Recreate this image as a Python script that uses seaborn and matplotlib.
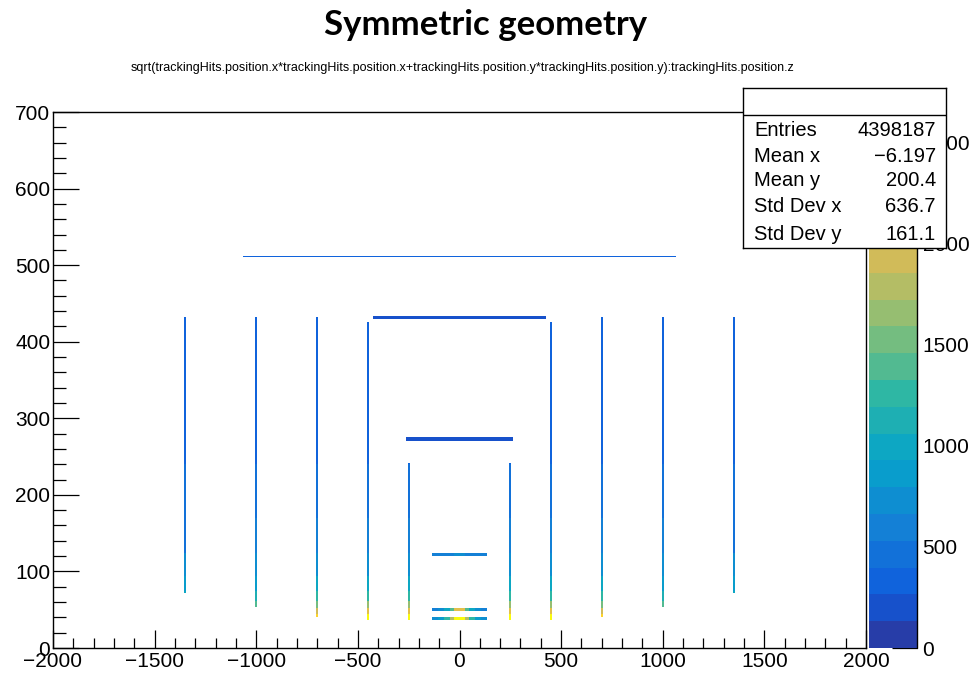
import numpy as np
import pandas as pd
import matplotlib
matplotlib.use("Agg")
import matplotlib.pyplot as plt
from matplotlib.colors import ListedColormap
from matplotlib.ticker import MultipleLocator
import seaborn as sns

# ---------------- hit map: r = sqrt(x^2 + y^2) versus z ----------------
# Endcap disks: fixed z, hits spread over a radial range
DISK_Z = [-1350, -1000, -700, -450, -250, 250, 450, 700, 1000, 1350]
DISK_R_MIN = [72, 54, 40, 37, 37, 37, 37, 40, 54, 72]
DISK_R_MAX = [431, 431, 431, 426, 242, 242, 426, 431, 431, 431]
# hits per bin inside radial bands (band edges in mm), keyed by |z|
DISK_BAND_EDGES = [0, 45, 52, 62, 75, 95, 125, 170, 240, 330, 700]
DISK_HITS = {
    1350: [0, 0, 0, 1050, 880, 680, 520, 400, 310, 280],
    1000: [0, 0, 1400, 1150, 900, 700, 530, 410, 315, 285],
    700: [2300, 1900, 1550, 1250, 950, 740, 550, 420, 320, 290],
    450: [2550, 2050, 1650, 1300, 1000, 770, 570, 430, 330, 300],
    250: [2550, 2050, 1650, 1300, 1000, 770, 570, 430, 330, 300],
}

# Barrel layers: fixed radius, hits spread along z
BARREL_R = [36, 49.5, 121, 272, 431, 510]
BARREL_HALF_LENGTH = [135, 135, 135, 265, 421, 1068]
BARREL_ROWS = [2, 2, 2, 3, 2, 1]
# hits per bin inside |z| bands (band edges in mm)
BARREL_BAND_EDGES = [0, 25, 50, 80, 110, 150, 1100]
BARREL_HITS = [
    [2600, 1800, 1200, 900, 700, 700],
    [2000, 1400, 950, 750, 600, 600],
    [700, 660, 630, 600, 580, 580],
    [170, 170, 170, 170, 170, 170],
    [170, 170, 170, 170, 170, 170],
    [300, 300, 300, 300, 300, 300],
]

# Stats box contents
STATS_LABELS = ["Entries", "Mean x", "Mean y", "Std Dev x", "Std Dev y"]
STATS_VALUES = ["4398187", "\u22126.197", "200.4", "636.7", "161.1"]

TITLE = "Symmetric geometry"
SUBTITLE = ("sqrt(trackingHits.position.x*trackingHits.position.x+"
            "trackingHits.position.y*trackingHits.position.y):"
            "trackingHits.position.z")

X_TICKS = [-2000, -1500, -1000, -500, 0, 500, 1000, 1500, 2000]
Y_TICKS = [0, 100, 200, 300, 400, 500, 600, 700]
Z_TICKS = [0, 500, 1000, 1500, 2000, 2500]
Z_MAX = 2650
N_LEVELS = 20

# ---------------- histogram binning ----------------
x_edges = np.arange(-2005, 2006, 10.0)
y_edges = np.arange(0, 701, 2.0)
x_cent = 0.5 * (x_edges[:-1] + x_edges[1:])
y_cent = 0.5 * (y_edges[:-1] + y_edges[1:])
y_bw = y_edges[1] - y_edges[0]

zs, rs, ws = [], [], []
for z, rmin, rmax in zip(DISK_Z, DISK_R_MIN, DISK_R_MAX):
    prof = DISK_HITS[abs(z)]
    sel = y_cent[(y_cent >= rmin) & (y_cent <= rmax)]
    band = np.clip(np.searchsorted(DISK_BAND_EDGES, sel, side="right") - 1,
                   0, len(prof) - 1)
    w = np.asarray(prof, float)[band]
    keep = w > 0
    zs.extend([z] * int(keep.sum()))
    rs.extend(sel[keep])
    ws.extend(w[keep])

for r, half, nrow, prof in zip(BARREL_R, BARREL_HALF_LENGTH, BARREL_ROWS,
                               BARREL_HITS):
    sel = x_cent[np.abs(x_cent) <= half]
    band = np.clip(np.searchsorted(BARREL_BAND_EDGES, np.abs(sel),
                                   side="right") - 1, 0, len(prof) - 1)
    w = np.asarray(prof, float)[band]
    i0 = int(r // y_bw)
    for k in range(nrow):
        row = i0 + k - (nrow - 1) // 2
        zs.extend(sel)
        rs.extend([y_cent[row]] * len(sel))
        ws.extend(w)

hits = pd.DataFrame({"z": zs, "r": rs, "hits": ws})

# ---------------- ROOT "bird" palette, 20 contour levels ----------------
stops = np.array([0.0, 0.125, 0.25, 0.375, 0.5, 0.625, 0.75, 0.875, 1.0])
red = [0.2082, 0.0592, 0.0780, 0.0232, 0.1802, 0.5301, 0.8186, 0.9956, 0.9764]
green = [0.1664, 0.3599, 0.5041, 0.6419, 0.7178, 0.7492, 0.7328, 0.7862, 0.9832]
blue = [0.5293, 0.8684, 0.8385, 0.7914, 0.6425, 0.4662, 0.3499, 0.1968, 0.0539]
idx = np.array([int((i + 0.99) * 255 / N_LEVELS) for i in range(N_LEVELS)])
frac = np.minimum(idx, 254) / 254.0
cols = np.column_stack([np.interp(frac, stops, red),
                        np.interp(frac, stops, green),
                        np.interp(frac, stops, blue)])
bird = ListedColormap(cols)

# ---------------- figure ----------------
sns.set_theme(style="ticks")
plt.rcParams["font.family"] = ["Liberation Sans", "DejaVu Sans"]
plt.rcParams["axes.linewidth"] = 1.0
plt.rcParams["text.color"] = "black"

W, H = 969, 673
fig = plt.figure(figsize=(W / 100, H / 100), dpi=100)
fig.patch.set_facecolor("white")

def fx(px):
    return px / W

def fy(py):
    return 1 - py / H

ax = fig.add_axes([fx(53), fy(648), fx(866) - fx(53), fy(112) - fy(648)])
sns.histplot(data=hits, x="z", y="r", weights="hits",
             bins=(x_edges, y_edges), cmap=bird, vmin=0, vmax=Z_MAX,
             thresh=0, cbar=False, ax=ax)
mesh = ax.collections[0]
mesh.set_clim(0, Z_MAX)

ax.set_xlim(-2000, 2000)
ax.set_ylim(0, 700)
ax.set_xlabel("")
ax.set_ylabel("")
ax.set_xticks(X_TICKS)
ax.set_yticks(Y_TICKS)
ax.xaxis.set_minor_locator(MultipleLocator(100))
ax.yaxis.set_minor_locator(MultipleLocator(20))
ax.grid(False)
ax.set_facecolor("white")
for s in ax.spines.values():
    s.set_visible(True)
    s.set_color("black")
    s.set_linewidth(1.0)
ax.tick_params(axis="both", which="both", direction="in", colors="black",
               top=False, right=False, width=0.9, labelsize=15)
ax.tick_params(axis="x", which="major", length=13, pad=3)
ax.tick_params(axis="x", which="minor", length=7.2)
ax.tick_params(axis="y", which="major", length=18.7, pad=2)
ax.tick_params(axis="y", which="minor", length=9.4)

# colour scale
cax = fig.add_axes([fx(869), fy(648), fx(917) - fx(869), fy(112) - fy(648)])
cb = fig.colorbar(mesh, cax=cax, ticks=Z_TICKS)
cb.outline.set_visible(False)
cax.yaxis.set_ticks_position("right")
cax.minorticks_off()
cax.tick_params(axis="y", which="major", direction="in", length=18,
                width=0.9, pad=4, labelsize=15, colors="black")
cax.plot([1, 1], [0, 1], transform=cax.transAxes, color="black",
         lw=1.0, clip_on=False)

# statistics box
sax = fig.add_axes([fx(743), fy(248), fx(946) - fx(743), fy(88) - fy(248)],
                   zorder=10)
sax.set_facecolor("white")
sax.set_xlim(0, 1)
sax.set_ylim(0, 1)
sax.set_xticks([])
sax.set_yticks([])
for s in sax.spines.values():
    s.set_visible(True)
    s.set_color("black")
    s.set_linewidth(1.0)
box_h = 248 - 88
sax.plot([0, 1], [1 - 27 / box_h] * 2, color="black", lw=1.0)
row_py = [130, 156, 181, 207, 234]
for lab, val, py in zip(STATS_LABELS, STATS_VALUES, row_py):
    yy = 1 - (py - 88) / box_h
    sax.text((754 - 743) / 203, yy, lab, ha="left", va="center",
             fontsize=14.5, color="black")
    sax.text((936 - 743) / 203, yy, val, ha="right", va="center",
             fontsize=14.5, color="black")

fig.text(fx(486), fy(25), TITLE, ha="center", va="center", color="black",
         fontsize=25, fontweight="bold", family=["Lato", "DejaVu Sans"])
fig.text(fx(463), fy(68), SUBTITLE, ha="center", va="center",
         fontsize=9, color="black")

fig.savefig("out.png", dpi=100, facecolor="white")
